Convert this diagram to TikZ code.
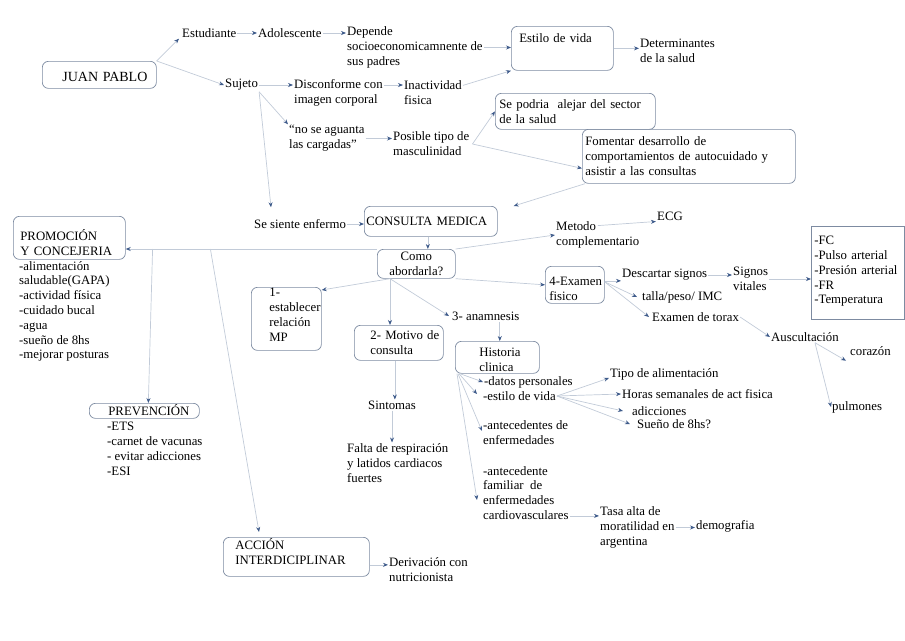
\documentclass[tikz,border=0pt]{standalone}
\usepackage{fontspec}
\setmainfont{Liberation Serif}
\usetikzlibrary{arrows.meta, calc}
\definecolor{linegray}{HTML}{C2CBD8}
\definecolor{tipblue}{HTML}{3D5A8A}
\definecolor{boxgray}{HTML}{7D8BA1}
\hyphenpenalty=10000

\begin{document}
\begin{tikzpicture}[x=1pt, y=-1pt,
  box/.style={rectangle, rounded corners=6pt, draw=boxgray, line width=0.7pt,
    anchor=north west, align=left, inner sep=0pt,
    font=\fontsize{12.8}{14.8}\selectfont},
  lpad/.style={execute at begin node={\leftskip=#1\relax}},
  txt/.style={anchor=west, align=left, inner sep=1pt,
    font=\fontsize{12.8}{14.8}\selectfont},
  arr/.style={draw=linegray, line width=0.7pt,
    -{Stealth[length=5pt, width=4pt, color=tipblue]}},
]
  \useasboundingbox (0,0) rectangle (905,640);

  % boxes
  \node[box, text width=114pt, lpad=20pt, text height=19.8pt, text depth=7.2pt,
    font=\fontsize{14}{16}\selectfont] (juan) at (42,61) {JUAN PABLO};
  \node[box, text width=102pt, lpad=8pt, text height=16.4pt, text depth=27.6pt] (estilo) at (511,26) {Estilo de vida};
  \node[box, text width=160pt, lpad=4pt, text height=15.4pt, text depth=20.6pt] (sepodria) at (495,93) {Se podria~ alejar del sector\\ de la salud};
  \node[box, text width=213pt, lpad=3pt, text height=16.4pt, text depth=37.6pt] (fomentar) at (582,129) {Fomentar desarrollo de\\ comportamientos de autocuidado y\\ asistir a las consultas};
  \node[box, text width=133pt, lpad=2pt, text height=19.4pt, text depth=10.6pt] (consulta) at (364,206) {CONSULTA MEDICA};
  \node[box, text width=78pt, align=center, text height=11.4pt, text depth=17.6pt] (como) at (377,249) {Como\\ abordarla?};
  \node[box, text width=112pt, lpad=7pt, text height=24.5pt, text depth=18.5pt] (promo) at (13,216) {PROMOCIÓN\\ Y CONCEJERIA};
  \node[box, text width=110pt, lpad=19pt, text height=12.4pt, text depth=2.6pt] (prev) at (89,403) {PREVENCIÓN};
  \node[box, text width=146pt, lpad=12pt, text height=12.4pt, text depth=26.6pt] (accion) at (223,537) {ACCIÓN\\ INTERDICIPLINAR};
  \node[box, text width=70pt, lpad=18pt, text height=9.4pt, text depth=53.6pt] (establecer) at (251,287) {1-\\ establecer\\ relación\\ MP};
  \node[box, text width=89pt, lpad=16pt, text height=14.4pt, text depth=20.6pt] (motivo) at (354,325) {2- Motivo de\\ consulta};
  \node[box, text width=84pt, lpad=24pt, text height=15.4pt, text depth=16.6pt] (historia) at (455,341) {Historia\\ clinica};
  \node[box, text width=59pt, lpad=4pt, text height=19.4pt, text depth=17.6pt] (examen) at (545,266) {4-Examen\\ fisico};
  \node[box, sharp corners, text width=93pt, lpad=3pt, text height=18.4pt, text depth=74.6pt] (fc) at (811,226) {-FC\\ -Pulso arterial\\ -Presión arterial\\ -FR\\ -Temperatura};

  % texts
  \node[txt] (estud) at (181,33) {Estudiante};
  \node[txt] (adol) at (257,33) {Adolescente};
  \node[txt] (depende) at (346,47.5) {Depende\\ socioeconomicamnente de\\ sus padres};
  \node[txt] (determ) at (639,50.5) {Determinantes\\ de la salud};
  \node[txt] (sujeto) at (224,85) {Sujeto};
  \node[txt] (discon) at (293,92.5) {Disconforme con\\ imagen corporal};
  \node[txt] (inact) at (403,92.5) {Inactividad\\ fisica};
  \node[txt] (aguanta) at (288,138.5) {“no se aguanta\\ las cargadas”};
  \node[txt] (posible) at (392,144) {Posible tipo de\\ masculinidad};
  \node[txt] (sesiente) at (253,224) {Se siente enfermo};
  \node[txt] (metodo) at (555,235) {Metodo\\ complementario};
  \node[txt] (ecg) at (656,216) {ECG};
  \node[txt] (descartar) at (621,275) {Descartar signos};
  \node[txt] (talla) at (641,297) {talla/peso/ IMC};
  \node[txt] (torax) at (651,317) {Examen de torax};
  \node[txt] (signos) at (732,279) {Signos\\ vitales};
  \node[txt] (auscul) at (770,337) {Auscultación};
  \node[txt] (corazon) at (849,351) {corazón};
  \node[txt] (pulmones) at (831,407) {pulmones};
  \node[txt] (anamnesis) at (451,316) {3- anamnesis};
  \node[txt] (datos) at (483,382) {-datos personales};
  \node[txt] (estilov) at (482,396) {-estilo de vida};
  \node[txt] (tipoal) at (609,374) {Tipo de alimentación};
  \node[txt] (horas) at (621,394) {Horas semanales de act fisica};
  \node[txt] (adicc) at (631,411) {adicciones};
  \node[txt] (suenio) at (636,424) {Sueño de 8hs?};
  \node[txt] (antec) at (482,433) {-antecedentes de\\ enfermedades};
  \node[txt] (antfam) at (482,493) {-antecedente\\ familiar~ de\\ enfermedades\\ cardiovasculares};
  \node[txt] (tasa) at (599,527.5) {Tasa alta de\\ moratilidad en\\ argentina};
  \node[txt] (demog) at (695,526) {demografia};
  \node[txt] (sintomas) at (367,405) {Sintomas};
  \node[txt] (falta) at (346,463) {Falta de respiración\\ y latidos cardiacos\\ fuertes};
  \node[txt] (promolist) at (18,311.5) {-alimentación\\ saludable(GAPA)\\ -actividad física\\ -cuidado bucal\\ -agua\\ -sueño de 8hs\\ -mejorar posturas};
  \node[txt] (prevlist) at (106,449) {-ETS\\ -carnet de vacunas\\ - evitar adicciones\\ -ESI};
  \node[txt] (deriv) at (388,569.5) {Derivación con\\ nutricionista};

  % connectors
  \draw[arr] (juan.north east) -- ([xshift=-2pt]estud.south west);
  \draw[arr] (juan.north east) -- (sujeto.west);
  \draw[arr] (estud.east) -- (adol.west);
  \draw[arr] (adol.east) -- (adol.east -| depende.west);
  \draw[arr] (depende.east) -- (depende.east -| estilo.west);
  \draw[arr] ([yshift=-6pt]inact.north east) -- (estilo.south west);
  \draw[arr] (estilo.east) -- (estilo.east -| determ.west);
  \draw[arr] (sujeto.east) -- (sujeto.east -| discon.west);
  \draw[arr] ([yshift=-7pt]discon.north east) -- ([yshift=-7pt]discon.north east -| inact.west);
  \draw[arr] (sujeto.south east) -- (aguanta.north west);
  \draw[arr] (aguanta.east) -- (aguanta.east -| posible.west);
  \draw[arr] ([xshift=2pt]posible.east) -- (sepodria.west);
  \draw[arr] ([xshift=2pt]posible.east) -- ([yshift=-12pt]fomentar.west);
  \draw[arr] ([xshift=3pt]fomentar.south west) -- ([xshift=16pt]consulta.north east);
  \draw[arr] (sujeto.south east) -- ([xshift=18pt,yshift=11pt]sesiente.north west);
  \draw[arr] (sesiente.east) -- (sesiente.east -| consulta.west);
  \draw[arr] ([xshift=-3pt]consulta.south) -- ([xshift=-3pt]consulta.south |- como.north);
  \draw[arr] (como.north west) -- coordinate[pos=0.663] (forkacc)
    coordinate[pos=0.893] (forkprev) (como.north west -| promo.east);
  \draw[arr] (forkprev) -- ([xshift=4pt]prev.north);
  \draw[arr] (forkacc) -- ([xshift=36pt,yshift=5pt]accion.north west);
  \draw[arr] ([yshift=-8pt]accion.east) -- ([yshift=-8pt]accion.east -| deriv.west);
  \draw[arr] ([xshift=13pt]como.south west) -- ([yshift=-3pt]establecer.north east);
  \draw[arr] ([xshift=13pt]como.south west) -- ([xshift=13pt]como.south west |- motivo.north);
  \draw[arr] ([xshift=13pt]como.south west) -- ([xshift=-2pt]anamnesis.west);
  \draw[arr] (como.north east) -- (metodo.west);
  \draw[arr] ([yshift=-5pt]metodo.north) -- (ecg.south west);
  \draw[arr] (como.south east) -- (examen.west);
  \draw[arr] ([yshift=4pt]examen.east) -- ([yshift=4pt]examen.east -| descartar.west);
  \draw[arr] ([yshift=3pt]examen.east) -- ([xshift=-4pt]talla.west);
  \draw[arr] ([yshift=3pt]examen.east) -- ([xshift=-2pt]torax.west);
  \draw[arr] (descartar.east) -- (descartar.east -| signos.west);
  \draw[arr] (signos.east) -- (signos.east -| fc.west);
  \draw[arr] (torax.east) -- (auscul.west);
  \draw[arr] ([xshift=10pt]auscul.south) -- ([xshift=-3pt,yshift=-4pt]corazon.south west);
  \draw[arr] ([xshift=10pt]auscul.south) -- (pulmones.west);
  \draw[arr] ([xshift=14pt]anamnesis.south) -- ([xshift=14pt]anamnesis.south |- historia.north);
  \draw[arr] ([xshift=-4pt]motivo.south) -- ([xshift=-4pt]motivo.south |- sintomas.north);
  \draw[arr] (sintomas.south) -- (sintomas.south |- falta.north);
  \draw[arr] ([xshift=5pt]historia.south west) -- (datos.west);
  \draw[arr] ([xshift=4pt]historia.south west) -- ([xshift=-5pt,yshift=2pt]estilov.west);
  \draw[arr] ([xshift=3pt]historia.south west) -- ([yshift=2pt]antec.west);
  \draw[arr] ([xshift=2pt]historia.south west) -- ([xshift=-5pt,yshift=-7pt]antfam.west);
  \draw[arr] (estilov.east) -- ([yshift=-4pt]tipoal.west);
  \draw[arr] (estilov.east) -- (horas.west);
  \draw[arr] (estilov.east) -- ([xshift=-8pt]adicc.west);
  \draw[arr] (estilov.east) -- ([xshift=-6pt]suenio.west);
  \draw[arr] ([yshift=5pt]antfam.south east) -- ([yshift=5pt]antfam.south east -| tasa.west);
  \draw[arr] (tasa.east) -- (tasa.east -| demog.west);
\end{tikzpicture}
\end{document}
